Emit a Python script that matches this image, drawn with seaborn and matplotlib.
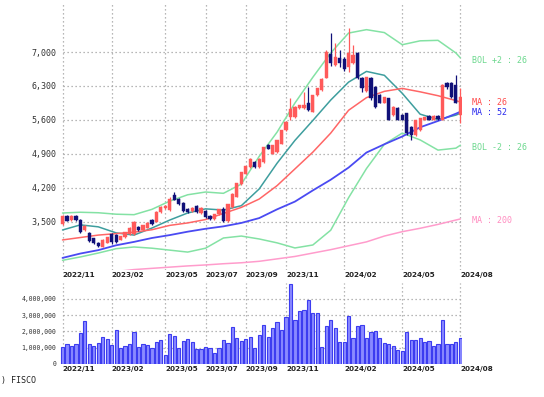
import numpy as np
import pandas as pd
import matplotlib
matplotlib.use("Agg")
import matplotlib.pyplot as plt
import matplotlib.transforms as mtrans
import seaborn as sns

# ---------------- data (weekly candles) ----------------
opens = [3460, 3620, 3540, 3630, 3550, 3330, 3280, 3160, 3060, 2990,
         3070, 3250, 3230, 3130, 3200, 3250, 3260, 3400, 3340, 3380,
         3550, 3500, 3700, 3780, 3740, 4060, 3980, 3900, 3760, 3720,
         3830, 3680, 3730, 3630, 3560, 3660, 3770, 3530, 3800, 4020,
         4280, 4490, 4630, 4730, 4630, 4730, 5080, 4900, 4940, 5110,
         5390, 5660, 5660, 5840, 5840, 5940, 5770, 6110, 6210, 6470,
         6950, 6730, 6870, 6860, 6700, 6780, 6980, 6460, 6200, 6460,
         6280, 6110, 5950, 6050, 5700, 5850, 5700, 5740, 5460, 5290,
         5390, 5600, 5680, 5600, 5690, 5600, 6360, 6360, 6320, 5700]
highs = [3650, 3640, 3640, 3650, 3560, 3440, 3290, 3170, 3080, 3140,
         3200, 3280, 3250, 3220, 3300, 3390, 3520, 3420, 3440, 3490,
         3570, 3720, 3820, 3850, 4010, 4120, 4000, 3920, 3790, 3800,
         3850, 3810, 3750, 3650, 3670, 3770, 3800, 3880, 4090, 4310,
         4530, 4660, 4810, 4760, 4810, 5050, 5100, 5090, 5190, 5400,
         5570, 6060, 5880, 5910, 6180, 6280, 6120, 6260, 6460, 7050,
         7390, 7190, 7050, 6900, 7490, 7150, 7000, 6490, 6490, 6480,
         6300, 6130, 6080, 6060, 5880, 5860, 5720, 5750, 5470, 5610,
         5650, 5670, 5700, 5700, 5700, 6340, 6390, 6380, 6520, 6260]
lows = [3440, 3510, 3530, 3520, 3280, 3320, 3080, 3040, 2990, 2980,
        3060, 3050, 3060, 3120, 3180, 3240, 3240, 3320, 3330, 3370,
        3440, 3490, 3690, 3760, 3720, 3950, 3850, 3700, 3690, 3700,
        3690, 3660, 3590, 3550, 3550, 3650, 3500, 3500, 3790, 4010,
        4270, 4480, 4620, 4620, 4620, 4720, 5000, 4890, 4930, 5100,
        5380, 5600, 5650, 5830, 5830, 5780, 5760, 6100, 6200, 6460,
        6720, 6710, 6700, 6600, 6590, 6760, 6440, 6180, 6180, 6010,
        5850, 5940, 5940, 5590, 5690, 5590, 5590, 5300, 5180, 5280,
        5380, 5590, 5590, 5590, 5600, 5590, 6240, 6050, 5950, 5540]
closes = [3620, 3530, 3620, 3540, 3300, 3420, 3100, 3060, 3010, 3120,
          3190, 3080, 3090, 3210, 3290, 3380, 3500, 3330, 3430, 3470,
          3450, 3700, 3800, 3830, 3980, 3960, 3860, 3720, 3700, 3790,
          3700, 3790, 3600, 3560, 3660, 3760, 3530, 3870, 4080, 4300,
          4520, 4650, 4800, 4630, 4800, 5040, 5010, 5080, 5180, 5390,
          5560, 5830, 5870, 5900, 5900, 5800, 6110, 6250, 6450, 7000,
          6770, 6900, 6780, 6640, 6980, 6940, 6470, 6260, 6480, 6050,
          5870, 5950, 6070, 5600, 5870, 5600, 5600, 5330, 5290, 5600,
          5640, 5660, 5610, 5680, 5620, 6320, 6270, 6070, 5960, 6070]
volumes = [1.06, 1.20, 1.10, 1.20, 1.92, 2.63, 1.20, 1.10, 1.27, 1.67,
           1.51, 1.16, 2.08, 1.00, 1.10, 1.20, 1.98, 1.06, 1.20, 1.14,
           0.96, 1.37, 1.47, 0.55, 1.82, 1.71, 1.00, 1.41, 1.51, 1.37,
           0.90, 0.90, 1.02, 0.96, 0.69, 0.96, 1.47, 1.27, 2.29, 1.61,
           1.41, 1.53, 1.67, 0.96, 1.78, 2.43, 1.67, 2.22, 2.59, 2.08,
           2.90, 4.94, 2.73, 3.24, 3.35, 3.92, 3.14, 3.14, 1.06, 2.33,
           2.73, 2.22, 1.33, 1.37, 2.94, 1.57, 2.33, 2.43, 1.61, 1.94,
           2.02, 1.61, 1.27, 1.22, 1.10, 0.86, 0.80, 1.98, 1.47, 1.47,
           1.57, 1.37, 1.43, 1.10, 1.22, 2.69, 1.22, 1.22, 1.37, 1.57]
volumes = [v * 1_000_000 for v in volumes]

# indicator lines sampled at these weeks
line_weeks = [0, 4, 8, 12, 16, 20, 24, 28, 32, 36, 40, 44, 48, 52, 56,
              60, 64, 68, 72, 76, 80, 84, 88, 89]
ma13 = [3335, 3440, 3400, 3275, 3230, 3375, 3540, 3685, 3770, 3745, 3835, 4180,
        4710, 5180, 5590, 6010, 6380, 6600, 6520, 6150, 5720, 5610, 5700, 5740]
ma26 = [3130, 3180, 3230, 3260, 3290, 3340, 3430, 3480, 3550, 3676, 3800, 3972,
        4248, 4593, 4938, 5330, 5800, 6060, 6190, 6250, 6180, 6100, 6000, 5970]
ma52 = [2760, 2850, 2920, 3020, 3090, 3170, 3230, 3300, 3360, 3410, 3480, 3580,
        3760, 3920, 4150, 4370, 4620, 4930, 5100, 5260, 5450, 5580, 5730, 5770]
ma200 = [np.nan, np.nan, np.nan, 2480, 2520, 2545, 2570, 2595, 2615, 2640, 2660, 2690,
         2740, 2790, 2860, 2930, 3010, 3090, 3210, 3300, 3370, 3450, 3540, 3562]
bol_up = [3685, 3700, 3690, 3660, 3650, 3760, 3930, 4060, 4117, 4090, 4280, 4850,
          5350, 5950, 6480, 6980, 7390, 7460, 7400, 7150, 7230, 7240, 6980, 6880]
bol_dn = [2710, 2780, 2860, 2950, 2985, 2960, 2920, 2880, 2960, 3170, 3210, 3150,
          3070, 2965, 3026, 3330, 4000, 4600, 5100, 5330, 5190, 4980, 5020, 5080]

month_labels = ["2022/11", "2023/02", "2023/05", "2023/07", "2023/09",
                "2023/11", "2024/02", "2024/05", "2024/08"]
month_weeks = [0, 11, 23, 32, 41, 50, 63, 76, 89]
price_ticks = [3500, 4200, 4900, 5600, 6300, 7000]
volume_ticks = [0, 1_000_000, 2_000_000, 3_000_000, 4_000_000]

# ---------------- styling ----------------
sns.set_theme(style="white")
plt.rcParams["font.family"] = ["DejaVu Sans Mono"]

W, H = 544, 397
fig = plt.figure(figsize=(W / 100, H / 100), dpi=100)
fig.patch.set_facecolor("white")
ax = fig.add_axes([60 / W, 1 - 270 / H, 402 / W, 267 / H])
axv = fig.add_axes([60 / W, 1 - 364 / H, 402 / W, 81.5 / H])

grid_kw = dict(color="#a0a0a0", lw=0.9, ls=(0, (1, 2.2)), zorder=0)
date_font = dict(family=["Liberation Sans Narrow", "DejaVu Sans"], size=5.2, weight="bold")

weeks = np.arange(len(opens))
o = np.array(opens, float); c = np.array(closes, float)
hi = np.array(highs, float); lo = np.array(lows, float)
up = c >= o
RED, NAVY = "#ff5a5a", "#101078"
cols = np.where(up, RED, NAVY)

# ---- price pane ----
for lw_, data, col in [(1.1, ma200, "#ff9ccc"), (1.1, bol_up, "#84e2a4"), (1.1, bol_dn, "#84e2a4"),
                       (1.1, ma13, "#3e9e9e"), (1.1, ma26, "#ff6666"), (1.3, ma52, "#4a4af2")]:
    df = pd.DataFrame({"w": line_weeks, "v": data}).dropna()
    sns.lineplot(data=df, x="w", y="v", ax=ax, color=col, lw=lw_, zorder=2)

ax.vlines(weeks, lo, hi, colors=cols, lw=0.9, zorder=3)
ax.bar(weeks, np.maximum(np.abs(c - o), 15), bottom=np.minimum(o, c), width=0.72,
       color=cols, edgecolor=cols, lw=0.3, zorder=4)

for w in month_weeks:
    ax.axvline(w, **grid_kw)
ax.hlines(price_ticks, month_weeks[0], month_weeks[-1], **grid_kw)

ax.set_xlim(-0.56, 89.37)
ax.set_ylim(2511, 8009)
ax.set_yticks(price_ticks)
ax.set_yticklabels([f"{t:,}" for t in price_ticks], fontsize=6, color="#333333")
ax.set_xticks(month_weeks)
ax.set_xticklabels(month_labels, ha="left", color="#222222", **date_font)
ax.tick_params(axis="both", length=0, pad=2.5)
ax.tick_params(axis="x", pad=1.5)
ax.set_xlabel(""); ax.set_ylabel("")
for s in ax.spines.values():
    s.set_visible(False)
ax.set_facecolor("white")

# right-hand legend labels
tr = mtrans.blended_transform_factory(ax.transAxes, ax.transData)
lx = (472 - 60) / 402
ax.text(lx, 6815, "BOL +2 : 26", transform=tr, color="#6cd88e", fontsize=6, va="center", ha="left")
ax.text(lx, ma26[-1], "MA : 26", transform=tr, color="#ff4a4a", fontsize=6, va="center", ha="left")
ax.text(lx, ma52[-1] - 20, "MA : 52", transform=tr, color="#2a2aee", fontsize=6, va="center", ha="left")
ax.text(lx, bol_dn[-1] - 40, "BOL -2 : 26", transform=tr, color="#6cd88e", fontsize=6, va="center", ha="left")
ax.text(lx, ma200[-1] - 40, "MA : 200", transform=tr, color="#ff8cc0", fontsize=6, va="center", ha="left")

# ---- volume pane ----
sns.barplot(x=weeks, y=volumes, ax=axv, native_scale=True, width=0.72,
            color="#8a8aff", edgecolor="#3c3cf0", linewidth=0.8, saturation=1, zorder=3)
for w in month_weeks:
    axv.axvline(w, **grid_kw)
axv.hlines(volume_ticks[1:], month_weeks[0], month_weeks[-1], **grid_kw)
axv.set_xlim(-0.56, 89.37)
axv.set_ylim(0, 5.015e6)
axv.set_yticks(volume_ticks)
axv.set_yticklabels([f"{t:,}" for t in volume_ticks], fontsize=4.7, color="#333333")
axv.set_xticks(month_weeks)
axv.set_xticklabels(month_labels, ha="left", color="#222222", **date_font)
axv.tick_params(axis="both", length=0, pad=2.5)
axv.tick_params(axis="x", pad=1.5)
axv.set_xlabel(""); axv.set_ylabel("")
for s in axv.spines.values():
    s.set_visible(False)
axv.set_facecolor("white")

fig.text(1 / W, 1 - 381 / H, ") FISCO", fontsize=6, color="#222222", va="center", ha="left")

fig.savefig("out.png", dpi=100, facecolor="white")
